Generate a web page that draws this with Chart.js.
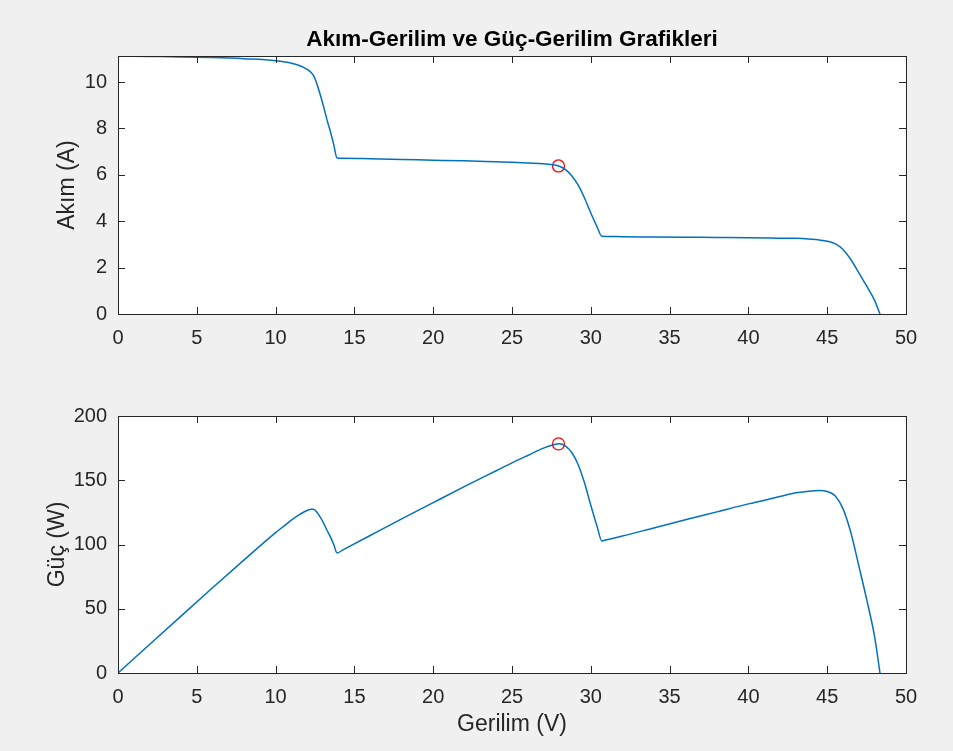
<!DOCTYPE html>
<html lang="tr">
  <head>
    <meta charset="UTF-8" />
    <title>Akım-Gerilim ve Güç-Gerilim Grafikleri</title>
    <script src="https://cdn.jsdelivr.net/npm/chart.js"></script>
    <style>
      html, body { margin: 0; padding: 0; background: #f0f0f0; }
      body { width: 953px; height: 751px; position: relative; overflow: hidden; }
      .plot { position: absolute; left: 0; width: 953px; }
      #top { top: 0; height: 380px; }
      #bottom { top: 380px; height: 371px; }
    </style>
  </head>
  <body>
    <div class="plot" id="top"><canvas id="ivChart"></canvas></div>
    <div class="plot" id="bottom"><canvas id="pvChart"></canvas></div>

    <script>
      // Gerilim (V) noktaları
      const voltage = [0, 2, 4, 6, 8, 10, 10.5, 11, 11.5, 11.8, 12.1, 12.25, 12.4, 12.55, 12.7, 13.0, 13.25, 13.5, 13.7, 13.9,
        14.3, 16, 18, 20, 22, 24, 25, 26, 27, 27.6, 28, 28.4, 28.8, 29.2, 29.6, 30, 30.4, 30.7,
        31.0, 32, 34, 36, 38, 40, 42, 43, 44, 44.5, 45, 45.5, 46, 46.5, 47, 47.5, 48, 48.35];
      // Akım (A)
      const current = [11.12, 11.10, 11.08, 11.05, 11.00, 10.92, 10.87, 10.81, 10.71, 10.62, 10.5, 10.41, 10.28, 10.05, 9.75, 9.05, 8.4, 7.8, 7.27, 6.72,
        6.71, 6.69, 6.66, 6.63, 6.60, 6.56, 6.54, 6.51, 6.48, 6.43, 6.37, 6.22, 5.95, 5.55, 5.0, 4.35, 3.75, 3.35,
        3.345, 3.33, 3.32, 3.31, 3.30, 3.29, 3.27, 3.26, 3.22, 3.19, 3.14, 3.03, 2.78, 2.35, 1.78, 1.21, 0.6, 0];
      // Güç (W)
      const power = [0, 22.2, 44.3, 66.3, 88.0, 109.2, 114.1, 118.9, 123.2, 125.3, 127.1, 127.5, 127.5, 126.1, 123.8, 117.7, 111.3, 105.3, 99.6, 93.4,
        96.0, 107.0, 119.9, 132.6, 145.2, 157.4, 163.5, 169.3, 175.0, 177.5, 178.4, 176.6, 171.4, 162.1, 148.0, 130.5, 114.0, 102.8,
        103.7, 106.6, 112.9, 119.2, 125.4, 131.6, 137.3, 140.2, 141.7, 142.0, 141.3, 137.9, 127.9, 109.3, 83.7, 57.5, 28.8, 0];
      // Maksimum güç noktası
      const mppV = 27.95;
      const mppI = 6.38;
      const mppP = 178.3;
      // Eksen sınırları
      const xLimits = [0, 50];
      const ivLimits = [0, 11.12];
      const pvLimits = [0, 200];

      const AXIS_COLOR = "#262626";
      const LINE_COLOR = "#0072bd";
      const FONT = "'Liberation Sans', Arial, Helvetica, sans-serif";

      // Beyaz çizim alanı, kutu ve içe dönük tick çizgileri (MATLAB görünümü)
      const matlabAxes = {
        id: "matlabAxes",
        beforeDraw(chart) {
          const { ctx, chartArea: a } = chart;
          ctx.save();
          ctx.fillStyle = "#ffffff";
          ctx.fillRect(a.left, a.top, a.right - a.left, a.bottom - a.top);
          ctx.restore();
        },
        afterDraw(chart) {
          const { ctx, chartArea: a, scales } = chart;
          const len = 7;
          ctx.save();
          ctx.strokeStyle = AXIS_COLOR;
          ctx.lineWidth = 1;
          ctx.beginPath();
          scales.x.ticks.forEach((t) => {
            const px = Math.round(scales.x.getPixelForValue(t.value)) + 0.5;
            ctx.moveTo(px, a.bottom);
            ctx.lineTo(px, a.bottom - len);
            ctx.moveTo(px, a.top);
            ctx.lineTo(px, a.top + len);
          });
          scales.y.ticks.forEach((t) => {
            const py = Math.round(scales.y.getPixelForValue(t.value)) + 0.5;
            ctx.moveTo(a.left, py);
            ctx.lineTo(a.left + len, py);
            ctx.moveTo(a.right, py);
            ctx.lineTo(a.right - len, py);
          });
          ctx.stroke();
          ctx.strokeRect(Math.round(a.left) + 0.5, Math.round(a.top) + 0.5,
            Math.round(a.right - a.left), Math.round(a.bottom - a.top));
          ctx.restore();
        },
      };

      function makeChart(canvasId, yValues, mppY, yLim, yStep, opts) {
        const curve = voltage.map((v, i) => ({ x: v, y: yValues[i] }));
        return new Chart(document.getElementById(canvasId), {
          type: "scatter",
          data: {
            datasets: [
              {
                data: curve,
                showLine: true,
                borderColor: LINE_COLOR,
                borderWidth: 1.5,
                pointRadius: 0,
                cubicInterpolationMode: "monotone",
              },
              {
                data: [{ x: mppV, y: mppY }],
                showLine: false,
                pointStyle: "circle",
                pointRadius: 6,
                pointBorderWidth: 1.3,
                pointBorderColor: "#ff0000",
                pointBackgroundColor: "rgba(0,0,0,0)",
              },
            ],
          },
          options: {
            responsive: true,
            maintainAspectRatio: false,
            animation: false,
            events: [],
            layout: { padding: opts.padding },
            plugins: {
              legend: { display: false },
              tooltip: { enabled: false },
              title: opts.title,
            },
            scales: {
              x: {
                type: "linear",
                min: xLimits[0],
                max: xLimits[1],
                afterFit: (s) => { s.height = opts.xHeight; },
                grid: { display: true, drawOnChartArea: false, drawTicks: false },
                border: { display: false },
                ticks: {
                  stepSize: 5,
                  padding: 12,
                  color: AXIS_COLOR,
                  font: { family: FONT, size: 20 },
                  maxRotation: 0,
                },
                title: opts.xTitle,
              },
              y: {
                type: "linear",
                min: yLim[0],
                max: yLim[1],
                afterFit: (s) => { s.width = 118; },
                grid: { display: true, drawOnChartArea: false, drawTicks: false },
                border: { display: false },
                ticks: {
                  stepSize: yStep,
                  includeBounds: false,
                  padding: 11,
                  color: AXIS_COLOR,
                  font: { family: FONT, size: 20 },
                },
                title: opts.yTitle,
              },
            },
          },
          plugins: [matlabAxes],
        });
      }

      makeChart("ivChart", current, mppI, ivLimits, 2, {
        padding: { left: 0, right: 47, top: 0, bottom: 0 },
        xHeight: 66,
        title: {
          display: true,
          fullSize: false,
          text: "Akım-Gerilim ve Güç-Gerilim Grafikleri",
          color: "#000000",
          font: { family: FONT, size: 22.5, weight: "bold", lineHeight: 1.2 },
          padding: { top: 26.5, bottom: 2.5 },
        },
        xTitle: { display: false },
        yTitle: {
          display: true,
          text: "Akım (A)",
          color: AXIS_COLOR,
          font: { family: FONT, size: 23, lineHeight: 1.2 },
          padding: { top: 54.2, bottom: 0 },
        },
      });

      makeChart("pvChart", power, mppP, pvLimits, 50, {
        padding: { left: 0, right: 47, top: 36, bottom: 0 },
        xHeight: 78,
        title: { display: false },
        xTitle: {
          display: true,
          text: "Gerilim (V)",
          color: AXIS_COLOR,
          font: { family: FONT, size: 23, lineHeight: 1.2 },
          padding: { top: 0, bottom: 12.2 },
        },
        yTitle: {
          display: true,
          text: "Güç (W)",
          color: AXIS_COLOR,
          font: { family: FONT, size: 23, lineHeight: 1.2 },
          padding: { top: 44.2, bottom: 0 },
        },
      });
    </script>
  </body>
</html>
